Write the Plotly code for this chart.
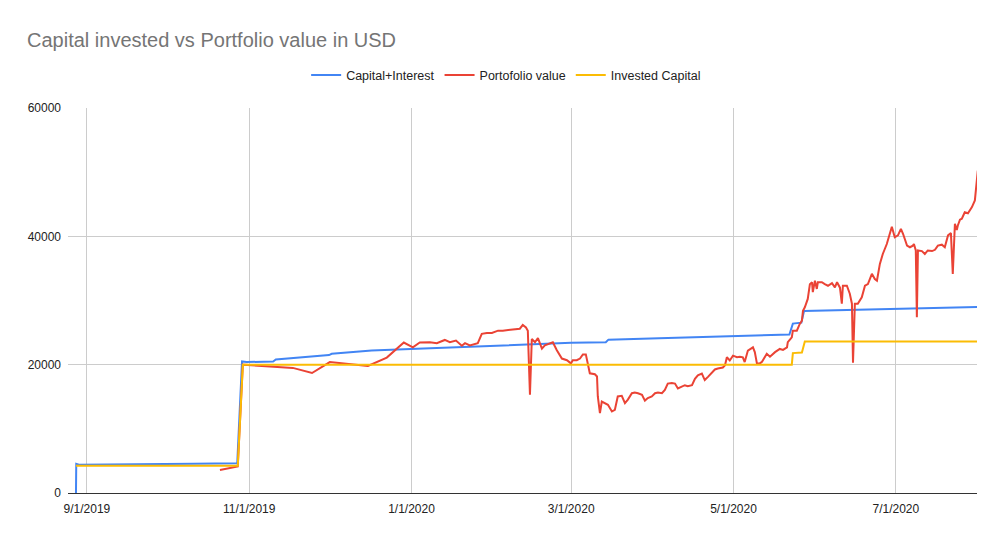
import pandas as pd
import plotly.graph_objects as go

# Days since 2019-09-01 and values (USD)
start = pd.Timestamp("2019-09-01")

ci_days = [-4.1, -4.0, -3.0, 20, 40, 56.5, 58.3, 60, 70, 71, 91, 92, 107, 129, 150, 165, 182,
           195, 196, 215, 243, 264, 265.3, 268.5, 269.5, 300, 334.8]
ci_vals = [0, 4550, 4400, 4450, 4550, 4650, 20500, 20400, 20500, 20800, 21500, 21700, 22200,
           22550, 22900, 23200, 23400, 23500, 23900, 24100, 24450, 24700, 26400, 26550, 28350,
           28600, 29000]

pv_days = [50.0, 56.7, 58.6, 77.4, 84.6, 91.3, 105.6, 112.7, 119.1, 122.5, 125.1, 128.9, 131.5,
           134.5, 136.4, 138.7, 140.9, 142.1, 143.9, 145.1, 146.9, 148.4, 150.3, 152.2, 154.5,
           156.3, 158.2, 160.1, 162.7, 163.8, 165.0, 165.7, 166.5, 167.2, 168.4, 169.5, 171.0,
           172.1, 175.1, 176.6, 178.5, 180.4, 181.9, 182.6, 184.1, 185.3, 186.4, 187.5, 188.3,
           189.0, 190.9, 191.7, 192.0, 192.8, 193.5, 194.7, 195.8, 197.3, 198.4, 199.5, 201.0,
           202.2, 203.3, 204.8, 205.9, 207.1, 208.6, 209.7, 210.8, 212.3, 213.5, 214.6, 216.1,
           217.2, 218.3, 219.8, 221.0, 222.1, 223.6, 224.7, 225.8, 227.4, 228.5, 229.6, 231.1,
           232.2, 233.4, 234.9, 236.0, 237.1, 239.0, 239.8, 240.5, 241.6, 242.8, 244.3, 245.4,
           246.5, 247.2, 248.4, 249.2, 250.3, 251.0, 251.8, 252.9, 253.7, 255.5, 256.7, 258.6,
           260.4, 261.6, 263.1, 263.4, 264.9, 265.3, 266.8, 267.9, 268.7, 269.1, 269.8, 270.9,
           271.7, 272.5, 272.8, 273.6, 274.3, 274.7, 276.2, 277.3, 278.5, 280.0, 281.1, 281.9,
           283.0, 283.7, 284.1, 285.6, 286.7, 287.5, 287.9, 288.6, 289.7, 291.2, 292.4, 293.5,
           295.0, 296.1, 296.9, 298.0, 299.1, 300.6, 301.8, 302.5, 303.6, 304.8, 305.9, 306.7,
           308.2, 309.3, 310.4, 310.8, 311.5, 311.9, 312.3, 313.8, 314.9, 316.0, 317.6, 318.7,
           319.8, 321.3, 322.4, 323.6, 324.7, 325.4, 326.2, 326.9, 327.3, 328.1, 328.8, 329.9,
           331.1, 332.6, 333.7, 334.8]
pv_vals = [3600, 4150, 20000, 19500, 18700, 20400, 19800, 21100, 23450, 22700, 23450, 23500, 23350,
           23850, 23500, 23750, 22950, 23350, 23000, 23100, 23350, 24800, 24950, 24950, 25300,
           25300, 25400, 25550, 25600, 26200, 25800, 25300, 15300, 24000, 23500, 24150, 22500,
           23000, 23500, 22250, 20950, 20700, 20200, 20700, 20700, 20950, 21600, 21600, 20200,
           18650, 18500, 18150, 15050, 12450, 14250, 14000, 13750, 12700, 12950, 15050, 15150,
           14000, 14550, 15550, 15650, 15550, 15300, 14400, 14800, 15050, 15550, 15650, 15550,
           16050, 17050, 17150, 17050, 16300, 16550, 16800, 16650, 16800, 17800, 18350, 18600,
           17600, 18100, 18850, 19250, 19400, 19550, 19900, 21150, 20650, 21400, 21150, 21250,
           21150, 20400, 22200, 22450, 22700, 21950, 20200, 20200, 20450, 21700, 21250, 21950,
           22450, 22300, 22700, 23500, 24250, 25300, 25300, 26350, 26850, 28400, 28950, 30250,
           32550, 32850, 31300, 33100, 31800, 32850, 32850, 32550, 32300, 32700, 32050, 32850,
           32000, 29500, 32300, 32300, 31050, 29500, 20300, 29500, 29500, 30500, 32300, 32550,
           34150, 33350, 33100, 35700, 37250, 38800, 40400, 41500, 39850, 40150, 41150, 40400,
           38550, 38300, 38550, 38800, 37800, 27400, 37800, 37700, 37250, 37800, 37700, 37900,
           38550, 38700, 38300, 40150, 40500, 34150, 41950, 41000, 41700, 42600, 42750, 43750,
           43600, 44550, 45600, 50250]

ic_days = [-4.1, 56.7, 58.6, 264.9, 265.3, 268.7, 269.8, 334.8]
ic_vals = [4250, 4250, 20000, 20000, 21800, 21900, 23600, 23600]

series_names = ["Capital+Interest", "Portofolio value", "Invested Capital"]
colors = ["#4285F4", "#EA4335", "#FBBC04"]

FONT = "Liberation Sans, Arial, sans-serif"


def to_dates(days):
    return start + pd.to_timedelta(days, unit="D")


fig = go.Figure()
for name, d, v, c in zip(series_names, [ci_days, pv_days, ic_days],
                         [ci_vals, pv_vals, ic_vals], colors):
    fig.add_trace(go.Scatter(x=to_dates(d), y=v, mode="lines", name=name,
                             line=dict(color=c, width=2)))

x_range = [start + pd.Timedelta(days=-7.1), start + pd.Timedelta(days=334.5)]

fig.update_layout(
    width=1005, height=541,
    margin=dict(l=68, r=28, t=108, b=48),
    paper_bgcolor="white", plot_bgcolor="white",
    font=dict(family=FONT, size=12, color="#222222"),
    title=dict(text="Capital invested vs Portfolio value in USD", x=27 / 1005, xref="container",
               xanchor="left", y=1 - 40 / 541, yref="container", yanchor="middle",
               font=dict(family=FONT, size=20, color="#757575")),
    legend=dict(orientation="h", x=0.482, xanchor="center", y=1.085, yanchor="middle",
                font=dict(family=FONT, size=12.5, color="#222222"), itemwidth=30),
    showlegend=True,
)
fig.update_xaxes(range=x_range, tick0="2019-09-01", dtick="M2", tickformat="%-m/%-d/%Y",
                 showgrid=True, gridcolor="#cccccc", gridwidth=1, ticks="", showline=False,
                 zeroline=False, ticklabelstandoff=7)
fig.update_yaxes(range=[0, 60000], tickvals=[0, 20000, 40000, 60000], tickformat="d",
                 showgrid=True, gridcolor="#cccccc", gridwidth=1, zeroline=True,
                 zerolinecolor="#333333", zerolinewidth=1, ticks="", showline=False,
                 ticklabelstandoff=6)

fig.write_html("out.html")
